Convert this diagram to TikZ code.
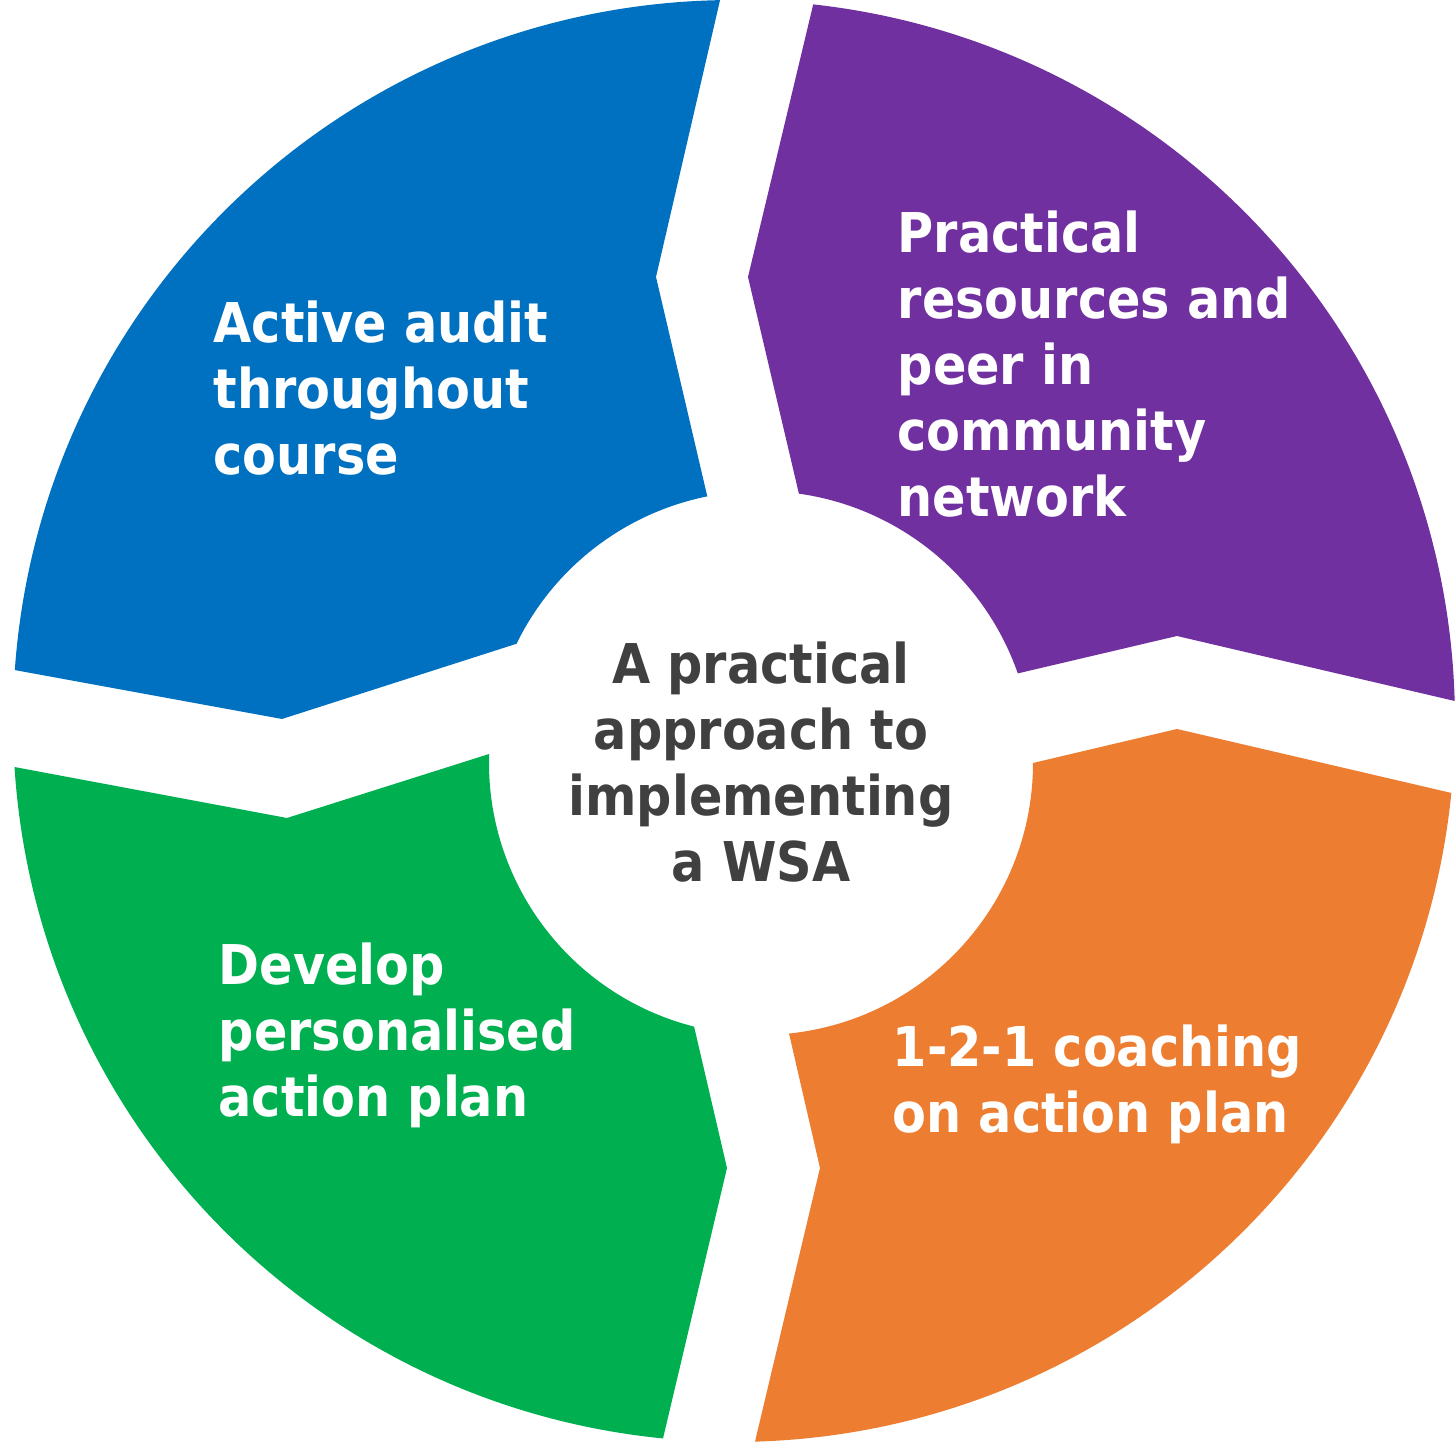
\documentclass[tikz,border=0pt]{standalone}
\usepackage{fontspec}
\setmainfont{DejaVu Sans Condensed}
\usepackage{xcolor}
\definecolor{segb}{HTML}{0070C0}
\definecolor{segp}{HTML}{7030A0}
\definecolor{sego}{HTML}{ED7D31}
\definecolor{segg}{HTML}{00B050}
\definecolor{ink}{HTML}{404040}
\usepackage{tikz}
\usetikzlibrary{calc}
\tikzset{
  lab/.style={font=\fontsize{15.6}{18.8}\selectfont\bfseries,text=white,align=left,inner sep=0pt,anchor=base west},
  mid/.style={lab,text=ink,align=center,anchor=base},
}
% ring piece: colour, outer arc, notch, inner arc, tip
\newcommand{\ringseg}[7]{%
  \fill[#1] ([shift={(#2:721)}]oc) arc[start angle=#2,end angle=#3,radius=721]
    -- #4 -- ([shift={(#5:272)}]ic) arc[start angle=#5,end angle=#6,radius=272]
    -- #7 -- cycle;}

\begin{document}
\begin{tikzpicture}[x=0.1mm,y=-0.1mm]
\useasboundingbox (0,0) rectangle (1455,1446);
\coordinate (oc) at (734,721);
\coordinate (ic) at (761,763);
% the four arrow pieces of the ring
\ringseg{segb}{184.05}{268.89}{(656,277)}{258.61}{206.0}{(282,719)}
\ringseg{segp}{276.31}{358.41}{(1177,636)}{340.77}{278.01}{(748,277)}
\ringseg{sego}{5.73}{88.33}{(820,1168)}{84.08}{0}{(1177,729)}
\ringseg{segg}{95.65}{176.34}{(287,818)}{181.9}{104.24}{(727,1168)}
% texts (placed at the baseline of their last line)
\node[lab] (audit) at (213,475) {Active audit\\throughout\\course};
\node[lab] (peer) at (897,517) {Practical\\resources and\\peer in\\community\\network};
\node[lab] (coach) at (892,1133) {1-2-1 coaching\\on action plan};
\node[lab] (plan) at (218,1117) {Develop\\personalised\\action plan};
\node[mid] (centre) at (761,882) {A practical\\approach to\\implementing\\a WSA};
\end{tikzpicture}
\end{document}
